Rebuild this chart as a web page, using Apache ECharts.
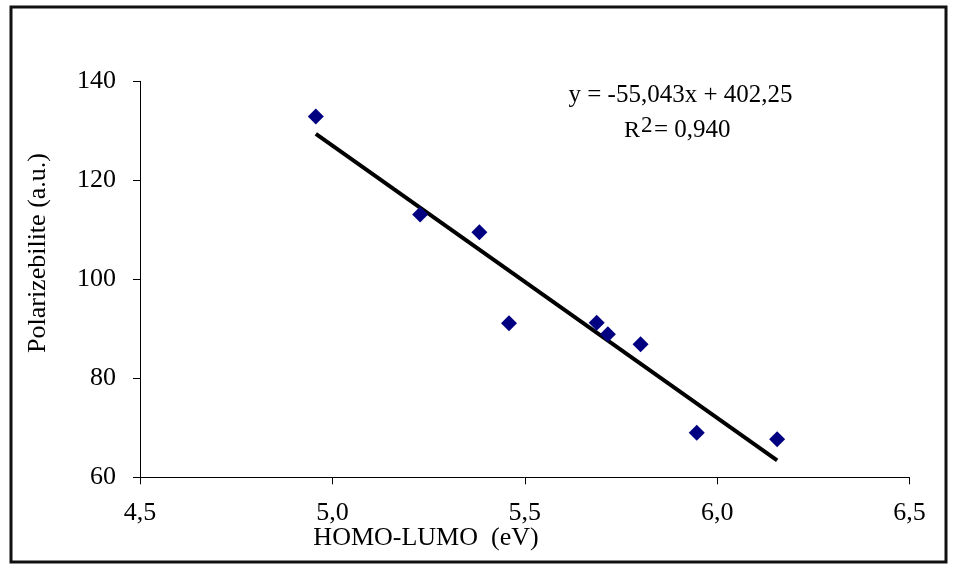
<!DOCTYPE html>
<html>
<head>
<meta charset="utf-8">
<script src="https://cdn.jsdelivr.net/npm/echarts@6/dist/echarts.min.js"></script>
<style>
html,body{margin:0;padding:0;background:#fff;}
#chart{width:957px;height:566px;}
</style>
</head>
<body>
<div id="chart"></div>
<script>
// Data
var gapValues = [4.957, 5.228, 5.382, 5.459, 5.687, 5.716, 5.801, 5.947, 6.156];
var polarValues = [132.9, 113.1, 109.5, 91.1, 91.2, 88.9, 86.9, 69.0, 67.7];
var fitSlope = -55.043;
var fitIntercept = 402.25;
var xTicks = [4.5, 5.0, 5.5, 6.0, 6.5];
var yTicks = [60, 80, 100, 120, 140];
var xTitle = 'HOMO-LUMO  (eV)';
var yTitle = 'Polarizebilite (a.u.)';
var eqLine1 = 'y = -55,043x + 402,25';
var eqLine2 = '0,940';

var FONT = '"Liberation Serif", "Times New Roman", serif';
var scatterData = gapValues.map(function (x, i) { return [x, polarValues[i]]; });
var xMinData = Math.min.apply(null, gapValues);
var xMaxData = Math.max.apply(null, gapValues);
var fitData = [
  [xMinData, fitSlope * xMinData + fitIntercept],
  [xMaxData, fitSlope * xMaxData + fitIntercept]
];

var chart = echarts.init(document.getElementById('chart'), null, {renderer: 'canvas'});
chart.setOption({
  backgroundColor: '#ffffff',
  animation: false,
  grid: {left: 140, right: 47.5, top: 81.3, bottom: 88.7, containLabel: false},
  xAxis: {
    type: 'value',
    min: xTicks[0], max: xTicks[xTicks.length - 1], interval: 0.5,
    axisLine: {onZero: false, lineStyle: {color: '#000', width: 1}},
    axisTick: {show: true, inside: false, length: 7, lineStyle: {color: '#000'}},
    splitLine: {show: false},
    axisLabel: {
      color: '#000', fontFamily: FONT, fontSize: 26, margin: 23,
      formatter: function (v) { return v.toFixed(1).replace('.', ','); }
    }
  },
  yAxis: {
    type: 'value',
    min: yTicks[0], max: yTicks[yTicks.length - 1], interval: 20,
    axisLine: {show: true, onZero: false, lineStyle: {color: '#000', width: 1}},
    axisTick: {show: true, inside: false, length: 7, lineStyle: {color: '#000'}},
    splitLine: {show: false},
    axisLabel: {color: '#000', fontFamily: FONT, fontSize: 26, margin: 24}
  },
  series: [
    {
      type: 'line',
      data: fitData,
      symbol: 'none',
      lineStyle: {color: '#000', width: 4},
      z: 2
    },
    {
      type: 'scatter',
      data: scatterData,
      symbol: 'diamond',
      symbolSize: 16,
      itemStyle: {color: '#000080', opacity: 1},
      emphasis: {disabled: true},
      z: 3
    }
  ],
  graphic: [
    {
      type: 'rect', silent: true,
      shape: {x: 11, y: 7, width: 935, height: 555},
      style: {fill: 'none', stroke: '#111', lineWidth: 3}
    },
    {
      type: 'text', silent: true,
      x: 426, y: 538,
      style: {text: xTitle, fill: '#000', font: '26px ' + FONT, textAlign: 'center', textVerticalAlign: 'middle'}
    },
    {
      type: 'text', silent: true,
      x: 38, y: 253, rotation: Math.PI / 2,
      style: {text: yTitle, fill: '#000', font: '26px ' + FONT, textAlign: 'center', textVerticalAlign: 'middle'}
    },
    {
      type: 'text', silent: true,
      x: 680.5, y: 95,
      style: {text: eqLine1, fill: '#000', font: '25px ' + FONT, textAlign: 'center', textVerticalAlign: 'middle'}
    },
    {
      type: 'text', silent: true,
      x: 624, y: 131,
      style: {text: 'R', fill: '#000', font: '24px ' + FONT, textAlign: 'left', textVerticalAlign: 'middle'}
    },
    {
      type: 'text', silent: true,
      x: 641, y: 126,
      style: {text: '2', fill: '#000', font: '23px ' + FONT, textAlign: 'left', textVerticalAlign: 'middle'}
    },
    {
      type: 'text', silent: true,
      x: 654, y: 130,
      style: {text: '= ' + eqLine2, fill: '#000', font: '25px ' + FONT, textAlign: 'left', textVerticalAlign: 'middle'}
    }
  ]
});
</script>
</body>
</html>
